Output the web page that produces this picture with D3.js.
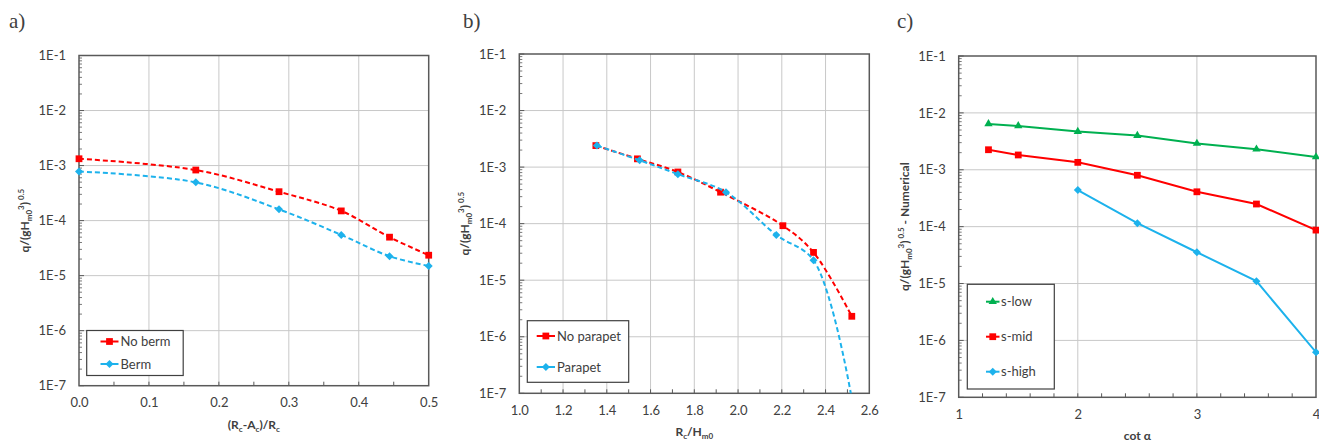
<!DOCTYPE html>
<html>
<head>
<meta charset="utf-8">
<script src="https://cdn.jsdelivr.net/npm/d3@7"></script>
<style>
  body { margin: 0; background: #fff; }
  svg { display: block; }
  text { font-family: Lato, "Open Sans", sans-serif; fill: #404040; }
</style>
</head>
<body>
<svg id="fig" width="1319" height="444"></svg>
<script>
// y axis decades shared by the three panels
const yDecades = [1e-7, 1e-6, 1e-5, 1e-4, 1e-3, 1e-2, 1e-1];
const yTickLabels = ['1E-7', '1E-6', '1E-5', '1E-4', '1E-3', '1E-2', '1E-1'];

// a) berm
const aTicks = [0, 0.1, 0.2, 0.3, 0.4, 0.5];
const aX = [0, 0.167, 0.286, 0.375, 0.444, 0.5];
const aNoBerm = [1.33e-3, 8.3e-4, 3.35e-4, 1.5e-4, 5.0e-5, 2.35e-5];
const aBerm = [7.8e-4, 4.95e-4, 1.6e-4, 5.5e-5, 2.25e-5, 1.5e-5];

// b) parapet
const bTicks = [1.0, 1.2, 1.4, 1.6, 1.8, 2.0, 2.2, 2.4, 2.6];
const bXNoParapet = [1.35, 1.54, 1.725, 1.92, 2.205, 2.345, 2.52];
const bNoParapet = [2.4e-3, 1.4e-3, 8.2e-4, 3.6e-4, 9.2e-5, 3.1e-5, 2.3e-6];
const bXParapet = [1.355, 1.55, 1.725, 1.945, 2.175, 2.345, 2.52];
const bParapet = [2.4e-3, 1.32e-3, 7.5e-4, 3.6e-4, 6.3e-5, 2.25e-5, 8e-8];

// c) slope
const cTicks = [1, 2, 3, 4];
const cX = [1.25, 1.5, 2, 2.5, 3, 3.5, 4];
const cLow = [6.4e-3, 5.9e-3, 4.7e-3, 4.0e-3, 2.9e-3, 2.3e-3, 1.68e-3];
const cMid = [2.25e-3, 1.82e-3, 1.35e-3, 8.0e-4, 4.1e-4, 2.5e-4, 8.7e-5];
const cXHigh = [2, 2.5, 3, 3.5, 4];
const cHigh = [4.4e-4, 1.15e-4, 3.55e-5, 1.1e-5, 6.2e-7];

const RED = '#ff0000', BLUE = '#1db2ec', GREEN = '#00b050';

const svg = d3.select('#fig');

function symbolPath(type) {
  if (type === 'square') return d3.symbol(d3.symbolSquare, 46)();
  // excel style diamond: a square turned 45 degrees
  if (type === 'diamond') return 'M0,-4L4,0L0,4L-4,0Z';
  return d3.symbol(d3.symbolTriangle, 30)();
}

function panel(cfg) {
  const x = d3.scaleLinear().domain(cfg.xDomain).range([cfg.left, cfg.right]);
  const y = d3.scaleLog().domain([1e-7, 1e-1]).range([cfg.bottom, cfg.top]);
  const g = svg.append('g');

  // gridlines
  g.selectAll('.vgrid').data(cfg.ticks.slice(1, -1)).enter().append('line')
    .attr('x1', d => x(d)).attr('x2', d => x(d))
    .attr('y1', cfg.top).attr('y2', cfg.bottom)
    .attr('stroke', '#c8c8c8').attr('stroke-width', 1);
  g.selectAll('.hgrid').data(yDecades.slice(1, -1)).enter().append('line')
    .attr('x1', cfg.left).attr('x2', cfg.right)
    .attr('y1', d => y(d)).attr('y2', d => y(d))
    .attr('stroke', '#c8c8c8').attr('stroke-width', 1);

  // minor ticks on the y axis (log subdivisions), inside the plot
  let minorY = [];
  yDecades.slice(0, -1).forEach(d => { for (let m = 2; m <= 9; m++) minorY.push(d * m); });
  g.selectAll('.ymin').data(minorY).enter().append('line')
    .attr('x1', cfg.left).attr('x2', cfg.left + 3)
    .attr('y1', d => y(d)).attr('y2', d => y(d))
    .attr('stroke', '#595959').attr('stroke-width', 0.8);
  g.selectAll('.ymaj').data(yDecades).enter().append('line')
    .attr('x1', cfg.left).attr('x2', cfg.left + 5)
    .attr('y1', d => y(d)).attr('y2', d => y(d))
    .attr('stroke', '#595959').attr('stroke-width', 1);

  // minor ticks on the x axis
  const n = Math.round((cfg.xDomain[1] - cfg.xDomain[0]) / cfg.minor);
  const minorX = d3.range(1, n).map(i => cfg.xDomain[0] + i * cfg.minor);
  g.selectAll('.xmin').data(minorX).enter().append('line')
    .attr('x1', d => x(d)).attr('x2', d => x(d))
    .attr('y1', cfg.bottom).attr('y2', cfg.bottom - 4)
    .attr('stroke', '#595959').attr('stroke-width', 1);

  // tick labels
  const yAxis = g.append('g').attr('transform', 'translate(' + cfg.left + ',0)')
    .call(d3.axisLeft(y).tickValues(yDecades).tickSize(0).tickPadding(13)
      .tickFormat((d, i) => yTickLabels[i]));
  const xAxis = g.append('g').attr('transform', 'translate(0,' + cfg.bottom + ')')
    .call(d3.axisBottom(x).tickValues(cfg.ticks).tickSize(0).tickPadding(12)
      .tickFormat(d3.format(cfg.fmt)));
  [yAxis, xAxis].forEach(a => {
    a.select('.domain').remove();
    a.selectAll('text').attr('font-family', 'Lato, "Open Sans", sans-serif')
      .attr('font-size', 13).attr('fill', '#404040');
  });

  // plot border
  g.append('rect')
    .attr('x', cfg.left).attr('y', cfg.top)
    .attr('width', cfg.right - cfg.left).attr('height', cfg.bottom - cfg.top)
    .attr('fill', 'none').attr('stroke', '#595959').attr('stroke-width', 1.5);

  // clip for lines
  const clipId = 'clip-' + cfg.id;
  svg.append('clipPath').attr('id', clipId).append('rect')
    .attr('x', cfg.left).attr('y', cfg.top)
    .attr('width', cfg.right - cfg.left).attr('height', cfg.bottom - cfg.top);

  cfg.series.forEach(s => {
    const pts = s.x.map((v, i) => [v, s.y[i]]);
    const line = d3.line()
      .x(d => x(d[0])).y(d => y(d[1]))
      .curve(s.smooth ? d3.curveCatmullRom.alpha(0.5) : d3.curveLinear);
    g.append('path').datum(pts)
      .attr('clip-path', 'url(#' + clipId + ')')
      .attr('d', line)
      .attr('fill', 'none').attr('stroke', s.color).attr('stroke-width', 2)
      .attr('stroke-dasharray', s.dashed ? '5,3' : null);
    g.selectAll(null).data(pts.filter(d => d[1] >= 1e-7)).enter().append('path')
      .attr('d', symbolPath(s.marker))
      .attr('transform', d => 'translate(' + x(d[0]) + ',' + y(d[1]) + ')')
      .attr('fill', s.color);
  });

  // legend
  const L = cfg.legend;
  g.append('rect').attr('x', L.x).attr('y', L.y).attr('width', L.w).attr('height', L.h)
    .attr('fill', '#fff').attr('stroke', '#404040').attr('stroke-width', 1.2);
  cfg.series.forEach((s, i) => {
    const yy = L.rows[i];
    g.append('line').attr('x1', L.lx1).attr('x2', L.lx2).attr('y1', yy).attr('y2', yy)
      .attr('stroke', s.color).attr('stroke-width', 2);
    g.append('path').attr('d', symbolPath(s.marker))
      .attr('transform', 'translate(' + ((L.lx1 + L.lx2) / 2) + ',' + yy + ')')
      .attr('fill', s.color);
    g.append('text').attr('x', L.tx).attr('y', yy).attr('dy', '0.35em')
      .attr('font-size', 13).text(s.name);
  });

  // panel letter
  svg.append('text').attr('x', cfg.letterX).attr('y', 28)
    .attr('font-size', 21).attr('fill', '#000').style('font-family', '"Liberation Serif", serif')
    .text(cfg.letter);

  // x axis title
  const xt = g.append('text').attr('x', (cfg.left + cfg.right) / 2).attr('y', cfg.bottom + 43)
    .attr('text-anchor', 'middle').attr('font-size', 12).attr('font-weight', 'bold');
  cfg.xTitle(xt);

  // y axis title (rotated)
  const yt = g.append('text')
    .attr('transform', 'translate(' + (cfg.left - 50) + ',' + ((cfg.top + cfg.bottom) / 2) + ') rotate(-90)')
    .attr('text-anchor', 'middle').attr('font-size', 12).attr('font-weight', 'bold');
  yt.append('tspan').text('q/(gH');
  yt.append('tspan').attr('font-size', 8).attr('dy', 3).text('m0');
  yt.append('tspan').attr('font-size', 8).attr('dy', -8).text('3');
  yt.append('tspan').attr('dy', 5).text(')');
  yt.append('tspan').attr('font-size', 8).attr('dy', -5).text('\u00a00.5');
  if (cfg.yTitleExtra) yt.append('tspan').attr('dy', 5).text(cfg.yTitleExtra);
}

panel({
  id: 'a', letter: 'a)', letterX: 9,
  left: 79, right: 428.7, top: 55.5, bottom: 385.7,
  xDomain: [0, 0.5], ticks: aTicks, minor: 0.05, fmt: '.1f',
  series: [
    { name: 'No berm', x: aX, y: aNoBerm, color: RED, marker: 'square', dashed: true, smooth: true },
    { name: 'Berm', x: aX, y: aBerm, color: BLUE, marker: 'diamond', dashed: true, smooth: true }
  ],
  legend: { x: 86.7, y: 330.5, w: 96.5, h: 45, rows: [341.5, 364], lx1: 100.5, lx2: 118.5, tx: 120.5 },
  xTitle: t => {
    t.append('tspan').text('(R');
    t.append('tspan').attr('font-size', 8).attr('dy', 3).text('c');
    t.append('tspan').attr('dy', -3).text('-A');
    t.append('tspan').attr('font-size', 8).attr('dy', 3).text('c');
    t.append('tspan').attr('dy', -3).text(')/R');
    t.append('tspan').attr('font-size', 8).attr('dy', 3).text('c');
  }
});

panel({
  id: 'b', letter: 'b)', letterX: 463,
  left: 519.3, right: 869.3, top: 54, bottom: 393.3,
  xDomain: [1, 2.6], ticks: bTicks, minor: 0.1, fmt: '.1f',
  series: [
    { name: 'No parapet', x: bXNoParapet, y: bNoParapet, color: RED, marker: 'square', dashed: true, smooth: true },
    { name: 'Parapet', x: bXParapet, y: bParapet, color: BLUE, marker: 'diamond', dashed: true, smooth: true }
  ],
  legend: { x: 527.3, y: 320.7, w: 101.4, h: 61.6, rows: [336, 367], lx1: 536.7, lx2: 555, tx: 557 },
  xTitle: t => {
    t.append('tspan').text('R');
    t.append('tspan').attr('font-size', 8).attr('dy', 3).text('c');
    t.append('tspan').attr('dy', -3).text('/H');
    t.append('tspan').attr('font-size', 8).attr('dy', 3).text('m0');
  }
});

panel({
  id: 'c', letter: 'c)', letterX: 897,
  left: 958.7, right: 1316, top: 56, bottom: 397.3,
  xDomain: [1, 4], ticks: cTicks, minor: 0.2, fmt: 'd',
  series: [
    { name: 's-low', x: cX, y: cLow, color: GREEN, marker: 'triangle', dashed: false, smooth: false },
    { name: 's-mid', x: cX, y: cMid, color: RED, marker: 'square', dashed: false, smooth: false },
    { name: 's-high', x: cXHigh, y: cHigh, color: BLUE, marker: 'diamond', dashed: false, smooth: false }
  ],
  legend: { x: 967.3, y: 284.3, w: 87, h: 104.7, rows: [301.7, 336.7, 371.7], lx1: 986, lx2: 999.5, tx: 1001 },
  yTitleExtra: ' - Numerical',
  xTitle: t => { t.text('cot \u03b1'); }
});
</script>
</body>
</html>
